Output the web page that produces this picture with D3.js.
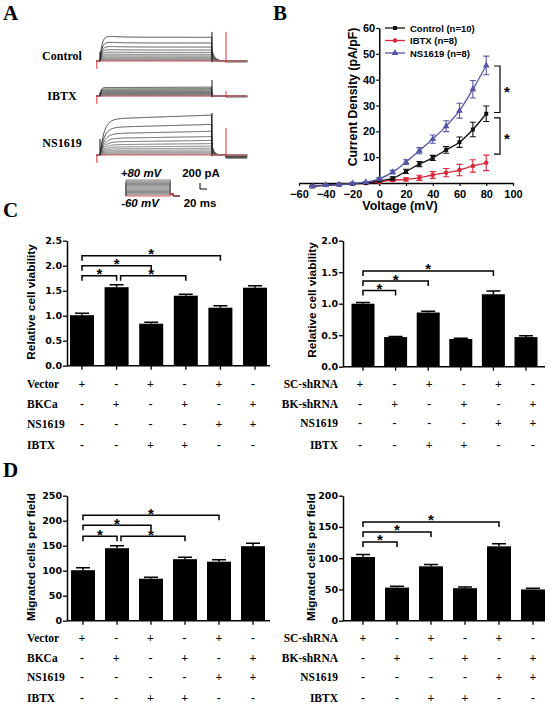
<!DOCTYPE html>
<html>
<head>
<meta charset="utf-8">
<script src="https://cdn.jsdelivr.net/npm/d3@7"></script>
<style>
body { margin: 0; background: #fff; }
svg text { fill: #000; }
</style>
</head>
<body>
<div id="fig"></div>
<script>
// ---- panel A: whole-cell traces (steady-state amplitude per step, pA)
var stepVoltages = [-60, -50, -40, -30, -20, -10, 0, 10, 20, 30, 40, 50, 60, 70, 80];
var controlSteady = [0, 8, 16, 28, 44, 66, 92, 126, 168, 220, 285, 365, 465, 600, 790];
var ibtxSteady = [0, 5, 10, 18, 28, 40, 55, 72, 92, 115, 140, 170, 205, 245, 295];
var ns1619Steady = [0, 14, 32, 56, 86, 124, 170, 226, 295, 380, 485, 615, 790, 1020, 1330];

// ---- panel B: I-V curves
var ivVoltage = [-50, -40, -30, -20, -10, 0, 10, 20, 30, 40, 50, 60, 70, 80];
var ivControl = [-1.3, -0.8, -0.6, -0.3, 0, 0.9, 1.8, 4.5, 7.3, 9.7, 12.8, 15.8, 20.7, 26.8];
var ivControlErr = [0.3, 0.3, 0.3, 0.3, 0.3, 0.4, 0.6, 0.8, 1, 1, 1.3, 2, 2.8, 3];
var ivIbtx = [-1.3, -0.8, -0.6, -0.3, -0.1, 0.4, 1.1, 1.4, 2, 3.1, 4, 5, 6.6, 7.8];
var ivIbtxErr = [0.3, 0.3, 0.3, 0.3, 0.3, 0.3, 0.5, 0.6, 1, 1.3, 1.6, 2.2, 2.4, 3];
var ivNs1619 = [-1.3, -0.8, -0.6, -0.2, 0.3, 1.6, 4.2, 8.1, 12.5, 17, 22, 28, 36.3, 45.5];
var ivNs1619Err = [0.3, 0.3, 0.3, 0.3, 0.3, 0.5, 0.7, 0.9, 1.2, 1.6, 2.1, 2.9, 3.4, 3.6];
var ivSig = [[45.3, 27.3], [25.2, 11.2]];

// ---- panels C and D
var overRows = ["Vector", "BKCa", "NS1619", "IBTX"];
var knockRows = ["SC-shRNA", "BK-shRNA", "NS1619", "IBTX"];
var treatSigns = [
	["+", "-", "+", "-", "+", "-"],
	["-", "+", "-", "+", "-", "+"],
	["-", "-", "-", "-", "+", "+"],
	["-", "-", "+", "+", "-", "-"]
];
var viabOver = [1.01, 1.57, 0.84, 1.40, 1.16, 1.56];
var viabOverErr = [0.04, 0.05, 0.03, 0.03, 0.04, 0.04];
var viabKnock = [1.0, 0.47, 0.86, 0.44, 1.15, 0.47];
var viabKnockErr = [0.02, 0.01, 0.02, 0.01, 0.05, 0.02];
var migOver = [101, 145, 84, 123, 118, 149];
var migOverErr = [5, 5, 3, 4, 4, 6];
var migKnock = [102, 53, 87, 52, 119, 50];
var migKnockErr = [4, 2, 3, 2, 4, 2];
var viabOverSig = [[0, 1, 1.8], [1, 3, 1.8], [0, 2, 2.0], [0, 4, 2.2]];
var viabKnockSig = [[0, 1, 1.21], [0, 2, 1.36], [0, 4, 1.52]];
var migOverSig = [[0, 1, 169], [1, 3, 169], [0, 2, 191], [0, 4, 211]];
var migKnockSig = [[0, 1, 126], [0, 2, 142], [0, 4, 158]];

var svg = d3.select("#fig").append("svg")
	.attr("width", 550)
	.attr("height", 704)
	.style("background", "#fff");

var serif = "'Liberation Serif', 'Times New Roman', serif";
var sans = "'Liberation Sans', Arial, sans-serif";

// panel letters
[["A", 3, 20], ["B", 273, 20], ["C", 3, 217], ["D", 3, 477]].forEach(function(p) {
	svg.append("text").attr("x", p[1]).attr("y", p[2])
		.attr("font-family", serif).attr("font-weight", "bold").attr("font-size", 21)
		.text(p[0]);
});

// ================= A =================
var traceTimes = d3.range(-10, 421, 1.5);
var traceX = d3.scaleLinear().domain([-10, 420]).range([96.5, 247]);
var pAperPx = 1 / 0.03;

var panelA = [
	{name: "Control", steady: controlSteady, base: 61, labelY: 60, tau: 6, hump: 0.09, slow: 0, tailFrac: 0.45, tailTau: 8, post: -35, spikeOff: 970, spikeRed: 970},
	{name: "IBTX", steady: ibtxSteady, base: 96, labelY: 100, tau: 3, hump: 0.02, slow: 0.05, tailFrac: 0.05, tailTau: 4, post: -90, spikeOff: 530, spikeRed: 170},
	{name: "NS1619", steady: ns1619Steady, base: 155, labelY: 147, tau: 12, hump: 0, slow: 0.1, tailFrac: 0.25, tailTau: 6, post: -80, spikeOff: 1400, spikeRed: 900}
];

function traceValue(c, amp, t) {
	if (t < 0) return 0;
	if (t < 320) {
		return amp * (1 - c.slow) * (1 - Math.exp(-t / c.tau)) + amp * c.slow * (t / 320) +
			amp * c.hump * Math.exp(-t / 40) * (1 - Math.exp(-t / 4));
	}
	if (t < 360) return amp * c.tailFrac * Math.exp(-(t - 320) / c.tailTau);
	return c.post * amp / 1000;
}

var greyScale = d3.scaleLinear().domain([1, 14]).range(["#9a9a9a", "#1a1a1a"]);

panelA.forEach(function(c) {
	var y = d3.scaleLinear().domain([0, 1000]).range([c.base, c.base - 1000 / pAperPx]);
	var g = svg.append("g").attr("class", "traces");
	var line = d3.line()
		.x(function(d) { return traceX(d[0]); })
		.y(function(d) { return y(d[1]); });
	var order = d3.range(c.steady.length).reverse();
	order.forEach(function(i) {
		var amp = c.steady[i];
		var pts = traceTimes.map(function(t) { return [t, traceValue(c, amp, t)]; });
		g.append("path")
			.attr("d", line(pts))
			.attr("fill", "none")
			.attr("stroke", i == 0 ? "#e0303a" : greyScale(i))
			.attr("stroke-width", 0.8);
	});
	// capacitive spikes
	g.append("line").attr("x1", traceX(0)).attr("x2", traceX(0))
		.attr("y1", y(0)).attr("y2", y(c.steady[14] * 0.4))
		.attr("stroke", "#111").attr("stroke-width", 1);
	g.append("line").attr("x1", traceX(-9)).attr("x2", traceX(-9))
		.attr("y1", y(0)).attr("y2", y(-260))
		.attr("stroke", "#e0303a").attr("stroke-width", 1);
	g.append("line").attr("x1", traceX(320)).attr("x2", traceX(320))
		.attr("y1", y(-40)).attr("y2", y(c.spikeOff))
		.attr("stroke", "#111").attr("stroke-width", 1);
	g.append("line").attr("x1", traceX(360)).attr("x2", traceX(360))
		.attr("y1", y(-60)).attr("y2", y(c.spikeRed))
		.attr("stroke", "#e0303a").attr("stroke-width", 1);

	svg.append("text").attr("x", 62).attr("y", c.labelY)
		.attr("text-anchor", "middle")
		.attr("font-family", serif).attr("font-weight", "bold").attr("font-size", 12)
		.text(c.name);
});

// voltage protocol
var protX = d3.scaleLinear().domain([0, 390]).range([126, 180]);
var protY = d3.scaleLinear().domain([-60, 80]).range([196, 180]);
var protLine = d3.line()
	.x(function(d) { return protX(d[0]); })
	.y(function(d) { return protY(d[1]); });
stepVoltages.slice().reverse().forEach(function(v) {
	var pts = [[0, -60], [0, v], [320, v], [320, -40], [340, -40], [340, -60], [390, -60]];
	svg.append("path").attr("d", protLine(pts))
		.attr("fill", "none")
		.attr("stroke", v == -60 ? "#e0303a" : "#6a6a6a")
		.attr("stroke-width", 0.8);
});

// scale bar: 200 pA, 20 ms
var sbX = 200, sbY = 189;
svg.append("path")
	.attr("d", "M" + sbX + "," + (sbY - 200 / pAperPx) + "V" + sbY + "H" + (sbX + traceX(20) - traceX(0)))
	.attr("fill", "none").attr("stroke", "#000").attr("stroke-width", 1);

[["+80 mV", 141, 177, "italic"], ["-60 mV", 140, 207, "italic"], ["200 pA", 201, 177, "normal"], ["20 ms", 200, 207, "normal"]].forEach(function(t) {
	svg.append("text").attr("x", t[1]).attr("y", t[2])
		.attr("text-anchor", "middle")
		.attr("font-family", sans).attr("font-weight", "bold").attr("font-style", t[3])
		.attr("font-size", 11.5)
		.text(t[0]);
});

// ================= B =================
var ivX = d3.scaleLinear().domain([-60, 100]).range([299, 513]);
var ivY = d3.scaleLinear().domain([0, 60]).range([183, 28]);
var gB = svg.append("g").attr("class", "iv");

gB.append("g")
	.attr("class", "x_axis")
	.attr("transform", "translate(0," + ivY(0) + ")")
	.call(d3.axisBottom(ivX).tickValues(d3.range(-60, 101, 20)).tickSize(3).tickPadding(4).tickSizeOuter(0));
gB.append("g")
	.attr("class", "y_axis")
	.attr("transform", "translate(" + ivX(0) + ",0)")
	.call(d3.axisLeft(ivY).tickValues(d3.range(10, 61, 10)).tickSize(3).tickPadding(1).tickSizeOuter(0));
gB.selectAll(".domain").attr("stroke-width", 1.5);
gB.selectAll(".tick line").attr("stroke-width", 1.2);
gB.selectAll(".tick text")
	.attr("font-family", sans).attr("font-weight", "bold").attr("font-size", 11);

gB.append("text").attr("x", 400).attr("y", 210)
	.attr("text-anchor", "middle")
	.attr("font-family", sans).attr("font-weight", "bold").attr("font-size", 12.5)
	.text("Voltage (mV)");
gB.append("text").attr("transform", "translate(357,97) rotate(-90)")
	.attr("text-anchor", "middle")
	.attr("font-family", sans).attr("font-weight", "bold").attr("font-size", 12.3)
	.text("Current Density (pA/pF)");

var ivSeries = [
	{name: "Control (n=10)", mean: ivControl, err: ivControlErr, color: "#111", sym: d3.symbolSquare, size: 16},
	{name: "IBTX (n=8)", mean: ivIbtx, err: ivIbtxErr, color: "#d8283a", sym: d3.symbolCircle, size: 16},
	{name: "NS1619 (n=8)", mean: ivNs1619, err: ivNs1619Err, color: "#5656a8", sym: d3.symbolTriangle, size: 20}
];

var ivLine = d3.line()
	.x(function(d) { return ivX(d[0]); })
	.y(function(d) { return ivY(d[1]); })
	.curve(d3.curveMonotoneX);

[1, 0, 2].forEach(function(k) {
	var s = ivSeries[k];
	var pts = ivVoltage.map(function(v, i) { return [v, s.mean[i], s.err[i]]; });
	var g = gB.append("g");
	g.append("path").attr("d", ivLine(pts))
		.attr("fill", "none").attr("stroke", s.color).attr("stroke-width", 1.3);
	g.selectAll("path.eb").data(pts).enter().append("path")
		.attr("class", "eb")
		.attr("d", function(d) {
			var x = ivX(d[0]), y1 = ivY(d[1] - d[2]), y2 = ivY(d[1] + d[2]);
			return "M" + (x - 3) + "," + y1 + "H" + (x + 3) + "M" + x + "," + y1 + "V" + y2 + "M" + (x - 3) + "," + y2 + "H" + (x + 3);
		})
		.attr("fill", "none").attr("stroke", s.color).attr("stroke-width", 1.1);
	g.selectAll("path.pt").data(pts).enter().append("path")
		.attr("class", "pt")
		.attr("transform", function(d) { return "translate(" + ivX(d[0]) + "," + ivY(d[1]) + ")"; })
		.attr("d", d3.symbol().type(s.sym).size(s.size))
		.attr("fill", s.color);
});

// legend
ivSeries.forEach(function(s, i) {
	var ly = 28 + i * 12.5;
	gB.append("line").attr("x1", 385).attr("x2", 405).attr("y1", ly).attr("y2", ly)
		.attr("stroke", s.color).attr("stroke-width", 1.3);
	gB.append("path").attr("transform", "translate(395," + ly + ")")
		.attr("d", d3.symbol().type(s.sym).size(s.size)).attr("fill", s.color);
	gB.append("text").attr("x", 410).attr("y", ly + 3.5)
		.attr("font-family", sans).attr("font-weight", "bold").attr("font-size", 9.5)
		.text(s.name);
});

// significance brackets
ivSig.forEach(function(b) {
	var y1 = ivY(b[0]), y2 = ivY(b[1]);
	gB.append("path").attr("d", "M494," + y1 + "H500V" + y2 + "H494")
		.attr("fill", "none").attr("stroke", "#000").attr("stroke-width", 1.2);
	gB.append("text").attr("x", 507).attr("y", (y1 + y2) / 2 + 8)
		.attr("text-anchor", "middle")
		.attr("font-family", sans).attr("font-weight", "bold").attr("font-size", 15)
		.text("*");
});

// ================= C / D =================
function barPanel(o) {
	var g = svg.append("g").attr("class", "bars");
	var n = o.mean.length;
	var x = d3.scalePoint().domain(d3.range(n)).range(o.xRange);
	var y = d3.scaleLinear().domain([0, o.yMax]).range([o.y0, o.yTop]);

	g.selectAll("path.err").data(o.mean).enter().append("path")
		.attr("class", "err")
		.attr("d", function(d, i) {
			var yt = y(d + o.err[i]);
			return "M" + x(i) + "," + y(d) + "V" + yt + "M" + (x(i) - 7) + "," + yt + "H" + (x(i) + 7);
		})
		.attr("fill", "none").attr("stroke", "#000").attr("stroke-width", 1.5);
	g.selectAll("rect").data(o.mean).enter().append("rect")
		.attr("x", function(d, i) { return x(i) - o.barW / 2; })
		.attr("y", function(d) { return y(d); })
		.attr("width", o.barW)
		.attr("height", function(d) { return o.y0 - y(d); })
		.attr("fill", "#000");

	var ya = g.append("g")
		.attr("transform", "translate(" + o.axisX + ",0)")
		.call(d3.axisLeft(y).tickValues(o.ticks).tickSize(4).tickPadding(1).tickSizeOuter(0).tickFormat(d3.format(o.fmt)));
	ya.select(".domain").attr("stroke-width", 1.5);
	ya.selectAll(".tick line").attr("stroke-width", 1.3);
	ya.selectAll(".tick text")
		.attr("font-family", "'DejaVu Sans', sans-serif").attr("font-weight", "bold").attr("font-size", 9.5);

	g.append("line").attr("x1", o.axisX).attr("x2", o.xEnd).attr("y1", o.y0).attr("y2", o.y0)
		.attr("stroke", "#000").attr("stroke-width", 1.5);
	g.selectAll("line.xt").data(d3.range(n)).enter().append("line")
		.attr("class", "xt")
		.attr("x1", function(i) { return x(i); }).attr("x2", function(i) { return x(i); })
		.attr("y1", o.y0).attr("y2", o.y0 + 4)
		.attr("stroke", "#000").attr("stroke-width", 1.3);

	o.sig.forEach(function(s) {
		var ys = y(s[2]);
		var xa = x(s[0]) + (s[0] > 0 ? 4 : 0), xb = x(s[1]);
		g.append("path").attr("d", "M" + xa + "," + (ys + 5) + "V" + ys + "H" + xb + "V" + (ys + 5))
			.attr("fill", "none").attr("stroke", "#000").attr("stroke-width", 1.5);
		g.append("text").attr("x", (x(s[0]) + xb) / 2).attr("y", ys + 3.5)
			.attr("text-anchor", "middle")
			.attr("font-family", sans).attr("font-weight", "bold").attr("font-size", 15)
			.text("*");
	});

	g.append("text").attr("transform", "translate(" + o.labelX + "," + o.labelY + ") rotate(-90)")
		.attr("text-anchor", "middle")
		.attr("font-family", sans).attr("font-weight", "bold").attr("font-size", 11.8)
		.text(o.title);

	var tx = d3.scalePoint().domain(d3.range(n)).range(o.tableRange);
	o.rows.forEach(function(r, k) {
		g.append("text").attr("x", o.rowX).attr("y", o.rowY[k])
			.attr("text-anchor", o.rowAnchor)
			.attr("font-family", serif).attr("font-weight", "bold").attr("font-size", 11.5)
			.text(r);
		g.selectAll("text.sg" + k).data(treatSigns[k]).enter().append("text")
			.attr("class", "sg" + k)
			.attr("x", function(d, i) { return tx(i); })
			.attr("y", o.rowY[k])
			.attr("text-anchor", "middle")
			.attr("font-family", serif).attr("font-weight", "bold").attr("font-size", 12)
			.text(function(d) { return d; });
	});
}

barPanel({mean: viabOver, err: viabOverErr, sig: viabOverSig, rows: overRows,
	xRange: [82, 255], barW: 24, y0: 365.7, yTop: 240.7, yMax: 2.5, axisX: 67, xEnd: 270,
	ticks: [0, 0.5, 1, 1.5, 2, 2.5], fmt: ".1f", title: "Relative cell viability", labelX: 35, labelY: 302,
	tableRange: [82, 253], rowX: 27, rowAnchor: "start", rowY: [388, 408, 428, 449]});
barPanel({mean: viabKnock, err: viabKnockErr, sig: viabKnockSig, rows: knockRows,
	xRange: [363, 526], barW: 23, y0: 366.7, yTop: 240.7, yMax: 2.0, axisX: 343, xEnd: 545,
	ticks: [0, 0.5, 1, 1.5, 2], fmt: ".1f", title: "Relative cell viability", labelX: 316, labelY: 300,
	tableRange: [360, 533], rowX: 338, rowAnchor: "end", rowY: [388, 408, 427, 449]});
barPanel({mean: migOver, err: migOverErr, sig: migOverSig, rows: overRows,
	xRange: [83, 253], barW: 24, y0: 620.7, yTop: 495.7, yMax: 250, axisX: 67, xEnd: 270,
	ticks: [0, 50, 100, 150, 200, 250], fmt: "d", title: "Migrated cells per field", labelX: 35, labelY: 557,
	tableRange: [82, 253], rowX: 27, rowAnchor: "start", rowY: [642, 662, 681, 702]});
barPanel({mean: migKnock, err: migKnockErr, sig: migKnockSig, rows: knockRows,
	xRange: [363, 533], barW: 24, y0: 620.7, yTop: 495.7, yMax: 200, axisX: 343, xEnd: 545,
	ticks: [0, 50, 100, 150, 200], fmt: "d", title: "Migrated cells per field", labelX: 315, labelY: 557,
	tableRange: [363, 533], rowX: 338, rowAnchor: "end", rowY: [642, 662, 681, 702]});
</script>
</body>
</html>
